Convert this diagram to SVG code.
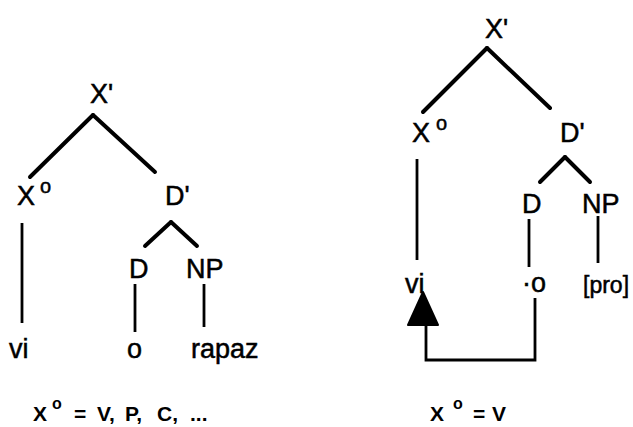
<svg xmlns="http://www.w3.org/2000/svg" width="633" height="427" viewBox="0 0 633 427">
<style>
text{font-family:"Liberation Sans",Arial,sans-serif;fill:#000}
.lab{font-size:27px;stroke:#000;stroke-width:0.5}
.sup{font-size:20px;stroke:#000;stroke-width:0.5}
.cap{font-size:21px;font-weight:bold}
.capsup{font-size:16px;font-weight:bold}
.br{stroke:#000;stroke-width:4;stroke-linecap:round;fill:none}
.vt{stroke:#000;stroke-width:2.8;fill:none}
</style>
<rect width="633" height="427" fill="#fff"/>
<g id="connectors">
<line class="br" x1="93" y1="115" x2="30" y2="177"/>
<line class="br" x1="93" y1="115" x2="155" y2="172"/>
<line class="br" x1="171" y1="222" x2="145" y2="246"/>
<line class="br" x1="171" y1="222" x2="197" y2="246"/>
<line class="vt" x1="22" y1="223" x2="22" y2="323"/>
<line class="vt" x1="135" y1="284" x2="135" y2="332"/>
<line class="vt" x1="204" y1="284" x2="204" y2="327"/>
<line class="br" x1="487" y1="48" x2="423" y2="112"/>
<line class="br" x1="487" y1="48" x2="550" y2="108"/>
<line class="br" x1="565" y1="157" x2="540" y2="182"/>
<line class="br" x1="565" y1="157" x2="590" y2="182"/>
<line class="vt" x1="417" y1="159" x2="417" y2="260"/>
<line class="vt" x1="529" y1="219" x2="529" y2="267"/>
<line class="vt" x1="598" y1="216" x2="598" y2="263"/>
<path class="vt" d="M535,298 V360 H426 V320"/>
<polygon points="423,292 408,325 438,325" fill="#000" stroke="#000" stroke-width="2" stroke-linejoin="round"/>
</g>
<g id="L-Xbar"><text class="lab" x="90" y="103">X'</text></g>
<g id="L-X0"><text class="lab" x="17" y="205">X</text><text class="sup" x="40" y="193">o</text></g>
<g id="L-Dbar"><text class="lab" x="165" y="205">D'</text></g>
<g id="L-D"><text class="lab" x="129" y="278">D</text></g>
<g id="L-NP"><text class="lab" x="186" y="278">NP</text></g>
<g id="L-vi"><text class="lab" x="9" y="358">vi</text></g>
<g id="L-o"><text class="lab" x="127" y="358">o</text></g>
<g id="L-rapaz"><text class="lab" x="191" y="358">rapaz</text></g>
<g id="L-caption"><text class="cap" y="421"><tspan x="33">X</tspan><tspan class="capsup" x="52" y="409">o</tspan><tspan x="74" y="421">=</tspan><tspan x="97">V,</tspan><tspan x="125">P,</tspan><tspan x="157">C,</tspan><tspan x="190">...</tspan></text></g>
<g id="R-Xbar"><text class="lab" x="485" y="38">X'</text></g>
<g id="R-X0"><text class="lab" x="412" y="142">X</text><text class="sup" x="436" y="130">o</text></g>
<g id="R-Dbar"><text class="lab" x="560" y="142">D'</text></g>
<g id="R-D"><text class="lab" x="522" y="213">D</text></g>
<g id="R-NP"><text class="lab" x="582" y="213">NP</text></g>
<g id="R-vi"><text class="lab" x="405" y="293">vi</text></g>
<g id="R-o"><text class="lab" x="522" y="292">·o</text></g>
<g id="R-pro"><text class="lab" x="583" y="293" style="font-size:23px">[pro]</text></g>
<g id="R-caption"><text class="cap" y="421"><tspan x="430">X</tspan><tspan class="capsup" x="453" y="409">o</tspan><tspan x="473" y="421">=</tspan><tspan x="492">V</tspan></text></g>
</svg>
